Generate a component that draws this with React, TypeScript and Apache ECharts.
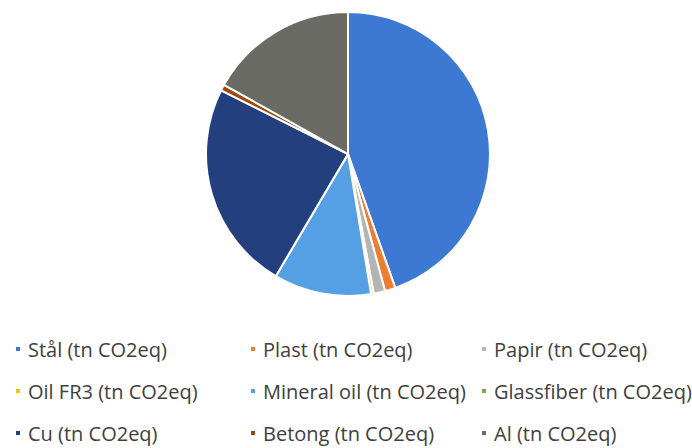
import React, { useEffect, useRef } from "react";
import * as echarts from "echarts";

const categories = [
  "Stål (tn CO2eq)",
  "Plast (tn CO2eq)",
  "Papir (tn CO2eq)",
  "Oil FR3 (tn CO2eq)",
  "Mineral oil (tn CO2eq)",
  "Glassfiber (tn CO2eq)",
  "Cu (tn CO2eq)",
  "Betong (tn CO2eq)",
  "Al (tn CO2eq)",
];
const values = [44.6, 1.2, 1.3, 0.3, 11.1, 0, 23.9, 0.7, 16.9];
const colors = [
  "#3d78d2",
  "#ed7d31",
  "#b4b4b4",
  "#ffc000",
  "#55a0e4",
  "#70ad47",
  "#233f7e",
  "#9e480e",
  "#6b6b66",
];
const legendColumns = [
  [0, 3, 6],
  [1, 4, 7],
  [2, 5, 8],
];
const columnLeft = [14, 249, 480];

export default function App() {
  const ref = useRef<HTMLDivElement>(null);
  useEffect(() => {
    if (!ref.current) return;
    const chart = echarts.init(ref.current, undefined, { renderer: "svg" });
    chart.setOption({
      animation: false,
      backgroundColor: "#ffffff",
      color: colors,
      legend: legendColumns.map((col, i) => ({
        orient: "vertical",
        left: columnLeft[i],
        top: 338,
        height: 108,
        padding: 0,
        itemGap: 20,
        itemWidth: 6,
        itemHeight: 6,
        icon: "rect",
        selectedMode: false,
        data: col.map((k) => categories[k]),
        textStyle: {
          fontFamily: "Open Sans",
          fontSize: 20,
          color: "#404040",
          lineHeight: 22,
          padding: [0, 0, 0, 2],
        },
      })),
      series: [
        {
          type: "pie",
          center: [348, 154],
          radius: 142,
          startAngle: 90,
          clockwise: true,
          label: { show: false },
          labelLine: { show: false },
          emphasis: { disabled: true },
          itemStyle: { borderColor: "#ffffff", borderWidth: 2 },
          data: categories.map((name, i) => ({ name, value: values[i] })),
        },
      ],
    });
    return () => chart.dispose();
  }, []);
  return (
    <div
      ref={ref}
      style={{ position: "fixed", left: 0, top: 0, width: 692, height: 448 }}
    />
  );
}
